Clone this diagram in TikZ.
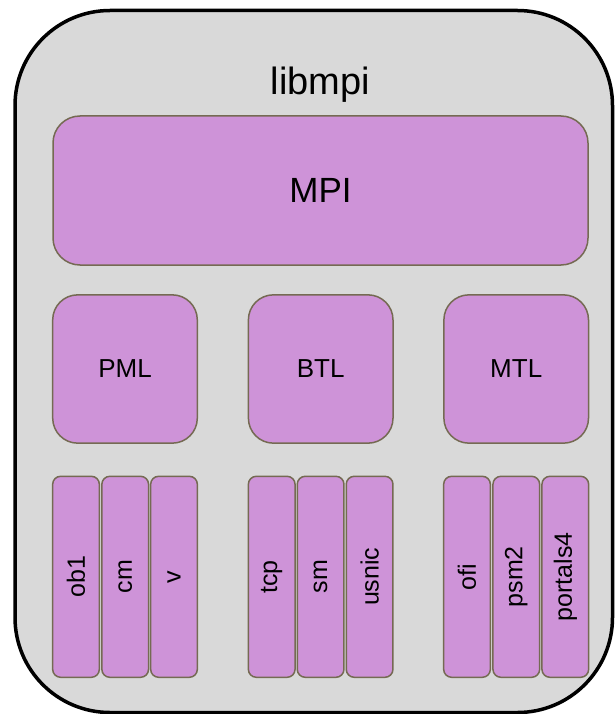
\documentclass[tikz,border=0pt]{standalone}
\usepackage{fontspec}
\setmainfont{Liberation Sans}
\definecolor{boxfill}{RGB}{206,147,216}
\definecolor{boxline}{RGB}{117,106,83}
\definecolor{outerfill}{RGB}{217,217,217}
\begin{document}
\begin{tikzpicture}[x=1pt,y=-1pt,
  outerbox/.style={draw=black, fill=outerfill, line width=3.5pt, rounded corners=95pt,
    minimum width=597.5pt, minimum height=702pt, inner sep=0pt},
  bigbox/.style={draw=boxline, fill=boxfill, line width=1.5pt, inner sep=0pt},
  midbox/.style={bigbox, rounded corners=25pt, minimum width=144.6pt, minimum height=148.3pt,
    font=\fontsize{26}{30}\selectfont},
  smallbox/.style={bigbox, rounded corners=8pt, rotate=90, minimum width=201pt, minimum height=46.7pt,
    font=\fontsize{25}{29}\selectfont}
]
\useasboundingbox (0,0) rectangle (615,714);
\node[outerbox] (libmpibox) at (313.75,361.5) {};
\node[anchor=base, inner sep=0pt, font=\fontsize{38}{42}\selectfont] (libmpi) at (320.5,94.3) {libmpi};
\node[bigbox, rounded corners=27pt, minimum width=535pt, minimum height=149pt,
  font=\fontsize{35}{40}\selectfont] (mpi) at (320.5,190.5) {MPI};
\node[midbox] (pml) at (125,369) {PML};
\node[midbox] (btl) at (320.7,369) {BTL};
\node[midbox] (mtl) at (516.2,369) {MTL};
\node[smallbox] (ob1) at (76,576.8) {ob1};
\node[smallbox] (cm) at (125.2,576.8) {cm};
\node[smallbox] (v) at (174,576.8) {v};
\node[smallbox] (tcp) at (271.7,576.8) {tcp};
\node[smallbox] (sm) at (320.6,576.8) {sm};
\node[smallbox] (usnic) at (369.6,576.8) {usnic};
\node[smallbox] (ofi) at (467,576.8) {ofi};
\node[smallbox] (psm2) at (516.3,576.8) {psm2};
\node[smallbox] (portals4) at (565.3,576.8) {portals4};
\end{tikzpicture}
\end{document}
